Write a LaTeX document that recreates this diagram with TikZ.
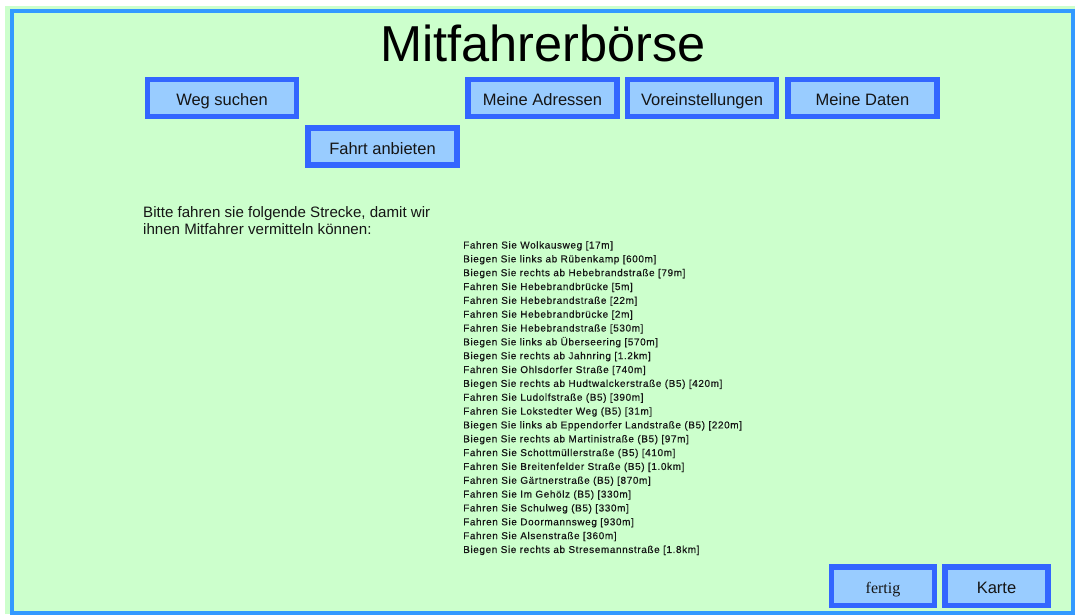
\documentclass[tikz,border=0pt]{standalone}
\usepackage{fontspec}
\setmainfont{Liberation Sans}
\newfontfamily\btnserif{Liberation Serif}
\newfontfamily\routefont[LetterSpace=6,FakeBold=0.4]{Liberation Sans}

\definecolor{pagegreen}{HTML}{CCFFCC}
\definecolor{frameblue}{HTML}{3399FF}
\definecolor{btnborder}{HTML}{3366FF}
\definecolor{btnfill}{HTML}{99CCFF}
\definecolor{inktext}{HTML}{151515}

\tikzset{
  btn/.style={draw=btnborder, fill=btnfill, line width=5.5pt,
    minimum width=149pt, minimum height=37pt, inner sep=0pt,
    text height=17pt, text depth=1pt,
    text=inktext, font=\fontsize{16.5}{20}\selectfont},
  smallbtn/.style={btn, minimum width=103pt, minimum height=38.5pt,
    text height=16pt, text depth=2pt},
  para/.style={anchor=base west, inner sep=0pt, text=inktext,
    font=\fontsize{15.1}{17}\selectfont},
  routeline/.style={anchor=base west, inner sep=0pt, text=inktext,
    font=\routefont\fontsize{10}{12}\selectfont}
}

\begin{document}
\begin{tikzpicture}[x=1pt,y=-1pt]
\useasboundingbox (0,0) rectangle (1076,615);
\fill[white] (0,0) rectangle (1076,615);
% page area with its frame
\fill[pagegreen] (5,6) rectangle (1075,614);
\draw[frameblue, line width=4pt] (12,11) rectangle (1073,613);

% heading
\node[anchor=base, inner sep=0pt, text=black,
      font=\fontsize{50.5}{60}\selectfont] (title) at (543,62) {Mitfahrerbörse};

% menu buttons
\node[btn] (weg)    at (222,98)      {Weg suchen};
\node[btn] (fahrt)  at (382.5,146.5) {Fahrt anbieten};
\node[btn] (adr)    at (542.5,98)    {Meine Adressen};
\node[btn] (vor)    at (702,98)      {Voreinstellungen};
\node[btn] (daten)  at (862.5,98)    {Meine Daten};

% instructions
\node[para] (p1) at (143,217) {Bitte fahren sie folgende Strecke, damit wir};
\node[para] (p2) at (143,234) {ihnen Mitfahrer vermitteln können:};

% route description
\foreach \t [count=\i from 0] in {
  Fahren Sie Wolkausweg [17m],
  Biegen Sie links ab Rübenkamp [600m],
  Biegen Sie rechts ab Hebebrandstraße [79m],
  Fahren Sie Hebebrandbrücke [5m],
  Fahren Sie Hebebrandstraße [22m],
  Fahren Sie Hebebrandbrücke [2m],
  Fahren Sie Hebebrandstraße [530m],
  Biegen Sie links ab Überseering [570m],
  Biegen Sie rechts ab Jahnring [1.2km],
  Fahren Sie Ohlsdorfer Straße [740m],
  Biegen Sie rechts ab Hudtwalckerstraße (B5) [420m],
  Fahren Sie Ludolfstraße (B5) [390m],
  Fahren Sie Lokstedter Weg (B5) [31m],
  Biegen Sie links ab Eppendorfer Landstraße (B5) [220m],
  Biegen Sie rechts ab Martinistraße (B5) [97m],
  Fahren Sie Schottmüllerstraße (B5) [410m],
  Fahren Sie Breitenfelder Straße (B5) [1.0km],
  Fahren Sie Gärtnerstraße (B5) [870m],
  Fahren Sie Im Gehölz (B5) [330m],
  Fahren Sie Schulweg (B5) [330m],
  Fahren Sie Doormannsweg [930m],
  Fahren Sie Alsenstraße [360m],
  Biegen Sie rechts ab Stresemannstraße [1.8km]}
  \node[routeline] (r\i) at (463,248.5+13.84*\i) {\t};

% action buttons
\node[smallbtn, font=\btnserif\fontsize{16}{18}\selectfont] (fertig) at (883,586) {fertig};
\node[smallbtn] (karte) at (996.5,586) {Karte};
\end{tikzpicture}
\end{document}
